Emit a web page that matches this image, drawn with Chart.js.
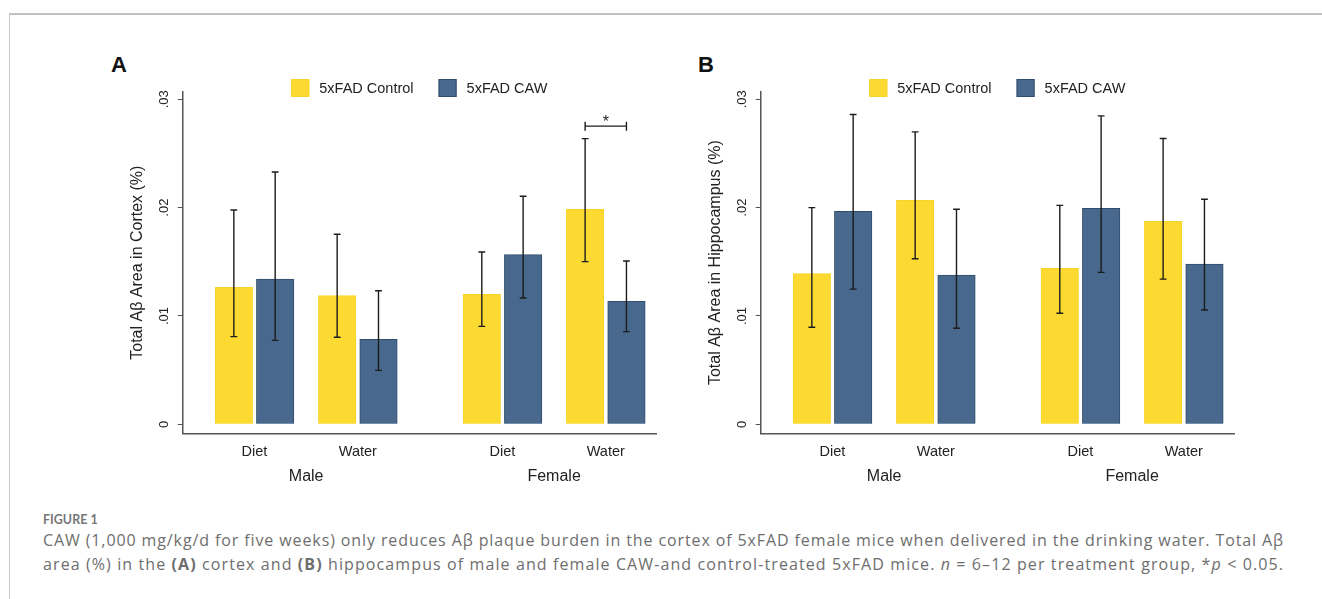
<!DOCTYPE html>
<html>
<head>
<meta charset="utf-8">
<script src="https://cdn.jsdelivr.net/npm/chart.js@4.4.1/dist/chart.umd.min.js"></script>
<style>
  html, body { margin:0; padding:0; background:#fff; }
  body { width:1322px; height:599px; position:relative; overflow:hidden; font-family:"Liberation Sans", Arial, sans-serif; }
  #frame { position:absolute; left:9px; top:13px; right:-5px; bottom:-5px; border-top:2px solid #c2c2c2; border-left:1.5px solid #c8c8c8; }
  .plabel { position:absolute; font:bold 22px/22px "Liberation Sans", Arial, sans-serif; color:#111; }
  canvas { position:absolute; }
  .cap { position:absolute; left:43px; white-space:nowrap; color:#6e6e6e; }
  #figno { top:512px; font-family:Lato, "Noto Sans", sans-serif; font-size:12.5px; line-height:15px; font-weight:700; color:#777; }
  .line { font-family:"Open Sans", "Noto Sans", sans-serif; font-size:16px; line-height:24px; }
  #l1 { top:527.5px; }
  #l2 { top:551.5px; }
</style>
</head>
<body>
<div id="frame"></div>
<div class="plabel" style="left:111px; top:54px;">A</div>
<div class="plabel" style="left:698px; top:54px;">B</div>
<canvas id="chartA" width="570" height="460" style="left:100px; top:40px;"></canvas>
<canvas id="chartB" width="570" height="460" style="left:678px; top:40px;"></canvas>
<div class="cap" id="figno">FIGURE 1</div>
<div class="cap line" id="l1">CAW (1,000 mg/kg/d for five weeks) only reduces Aβ plaque burden in the cortex of 5xFAD female mice when delivered in the drinking water. Total Aβ</div>
<div class="cap line" id="l2">area (%) in the <b>(A)</b> cortex and <b>(B)</b> hippocampus of male and female CAW-and control-treated 5xFAD mice. <i>n</i> = 6–12 per treatment group, *<i>p</i> &lt; 0.05.</div>
<script>
// ---------- data ----------
const subLabels = ['Diet', 'Water', 'Diet', 'Water'];
const groupLabels = ['Male', 'Female'];
const xPos = [0, 1, 2.4, 3.4];
const groupPos = [0.5, 2.9];
const seriesNames = ['5xFAD Control', '5xFAD CAW'];
const yTickValues = [0, 0.01, 0.02, 0.03];
const yTickLabels = ['0', '.01', '.02', '.03'];

// Panel A: cortex
const cortexControl   = [0.01265, 0.01187, 0.01200, 0.01985];
const cortexControlLo = [0.00809, 0.00803, 0.00904, 0.01501];
const cortexControlHi = [0.01978, 0.01754, 0.01590, 0.02637];
const cortexCAW       = [0.01341, 0.00784, 0.01566, 0.01135];
const cortexCAWLo     = [0.00775, 0.00498, 0.01166, 0.00855];
const cortexCAWHi     = [0.02329, 0.01233, 0.02105, 0.01507];
const cortexSig = { index: 3, y: 0.02752, label: '*' };

// Panel B: hippocampus
const hippoControl   = [0.01390, 0.02067, 0.01439, 0.01874];
const hippoControlLo = [0.00896, 0.01528, 0.01025, 0.01340];
const hippoControlHi = [0.02000, 0.02699, 0.02021, 0.02638];
const hippoCAW       = [0.01966, 0.01377, 0.01994, 0.01479];
const hippoCAWLo     = [0.01248, 0.00887, 0.01402, 0.01055];
const hippoCAWHi     = [0.02859, 0.01985, 0.02847, 0.02077];
const hippoSig = null;

// ---------- caption fitting ----------
function fitLine(id, target) {
  const el = document.getElementById(id);
  const w = el.getBoundingClientRect().width;
  const n = el.textContent.length;
  el.style.letterSpacing = ((target - w) / n) + 'px';
}
fitLine('l1', 1241);
fitLine('l2', 1241);

// ---------- styling ----------
const YELLOW = 'rgb(253,218,50)';
const YELLOW_B = 'rgb(248,212,40)';
const BLUE = 'rgb(72,105,141)';
const BLUE_B = 'rgb(50,78,110)';
const FONT = '"Liberation Sans", Arial, sans-serif';
const AXIS = '#555';

const overlay = {
  id: 'overlay',
  afterDatasetsDraw(chart) {
    const ctx = chart.ctx;
    const ys = chart.scales.y;
    ctx.save();
    ctx.strokeStyle = '#1c1c1c';
    ctx.lineWidth = 1.4;
    chart.data.datasets.forEach((ds, di) => {
      const meta = chart.getDatasetMeta(di);
      meta.data.forEach((bar, i) => {
        const x = bar.x;
        const yl = ys.getPixelForValue(ds.errLo[i]);
        const yh = ys.getPixelForValue(ds.errHi[i]);
        ctx.beginPath();
        ctx.moveTo(x, yl); ctx.lineTo(x, yh);
        ctx.moveTo(x - 3.4, yh); ctx.lineTo(x + 3.4, yh);
        ctx.moveTo(x - 3.4, yl); ctx.lineTo(x + 3.4, yl);
        ctx.stroke();
      });
    });
    const sig = chart.options.plugins.overlay.sig;
    if (sig) {
      const x1 = chart.getDatasetMeta(0).data[sig.index].x;
      const x2 = chart.getDatasetMeta(1).data[sig.index].x;
      const y = ys.getPixelForValue(sig.y);
      ctx.beginPath();
      ctx.moveTo(x1, y); ctx.lineTo(x2, y);
      ctx.moveTo(x1, y - 4.5); ctx.lineTo(x1, y + 4.5);
      ctx.moveTo(x2, y - 4.5); ctx.lineTo(x2, y + 4.5);
      ctx.stroke();
      ctx.fillStyle = '#222';
      ctx.font = '16px ' + FONT;
      ctx.textAlign = 'center';
      ctx.textBaseline = 'middle';
      ctx.fillText(sig.label, (x1 + x2) / 2, y - 3.5);
    }
    ctx.restore();
  },
  afterDraw(chart) {
    const ctx = chart.ctx;
    const ys = chart.scales.y;
    const area = chart.chartArea;
    ctx.save();
    // rotated y tick labels
    ctx.fillStyle = '#222';
    ctx.font = '13px ' + FONT;
    ctx.textAlign = 'center';
    ctx.textBaseline = 'middle';
    ys.ticks.forEach((t, i) => {
      const y = ys.getPixelForValue(t.value);
      ctx.save();
      ctx.translate(area.left - 18, y);
      ctx.rotate(-Math.PI / 2);
      ctx.fillText(yTickLabels[i], 0, 0);
      ctx.restore();
    });
    // legend
    ctx.font = '14.5px ' + FONT;
    ctx.textAlign = 'left';
    const box = 18, gapText = 10, gapItem = 25;
    const ds = chart.data.datasets;
    const widths = ds.map(d => ctx.measureText(d.label).width);
    const total = widths.reduce((a, w) => a + box + gapText + w, 0) + gapItem * (ds.length - 1);
    let x = (area.left + area.right) / 2 - total / 2;
    const top = area.top - 13;
    ds.forEach((d, i) => {
      ctx.fillStyle = d.backgroundColor;
      ctx.fillRect(x, top, box, box);
      ctx.strokeStyle = d.borderColor;
      ctx.lineWidth = 1;
      ctx.strokeRect(x + 0.5, top + 0.5, box - 1, box - 1);
      ctx.fillStyle = '#222';
      ctx.fillText(d.label, x + box + gapText, top + box / 2 + 0.5);
      x += box + gapText + widths[i] + gapItem;
    });
    ctx.restore();
  }
};

function makeChart(id, yTitle, ctrl, ctrlLo, ctrlHi, caw, cawLo, cawHi, sig) {
  const xMin = -0.695, xMax = 3.886;
  return new Chart(document.getElementById(id), {
    type: 'bar',
    data: {
      datasets: [
        { label: seriesNames[0], data: xPos.map((x, i) => ({ x: x - 0.2, y: ctrl[i] })),
          errLo: ctrlLo, errHi: ctrlHi,
          backgroundColor: YELLOW, borderColor: YELLOW_B, borderWidth: 1,
          grouped: false, barThickness: 37.5 },
        { label: seriesNames[1], data: xPos.map((x, i) => ({ x: x + 0.2, y: caw[i] })),
          errLo: cawLo, errHi: cawHi,
          backgroundColor: BLUE, borderColor: BLUE_B, borderWidth: 1,
          grouped: false, barThickness: 37.5 }
      ]
    },
    options: {
      responsive: false,
      animation: false,
      devicePixelRatio: 1,
      layout: { padding: { left: 24, right: 14, top: 52, bottom: 0 } },
      plugins: {
        legend: { display: false },
        tooltip: { enabled: false },
        overlay: { sig: sig }
      },
      scales: {
        x: {
          type: 'linear', position: 'bottom', min: xMin, max: xMax, offset: false, weight: 0,
          afterBuildTicks: s => { s.ticks = xPos.map(v => ({ value: v })); },
          afterFit: s => { s.height = 30; },
          grid: { display: false, drawTicks: false },
          border: { display: true, color: AXIS, width: 1.5 },
          ticks: { autoSkip: false, maxRotation: 0, padding: 10, color: '#222',
                   font: { family: FONT, size: 14.5 },
                   callback: (v, i) => subLabels[i] }
        },
        x2: {
          type: 'linear', position: 'bottom', min: xMin, max: xMax, offset: false, weight: 1,
          afterBuildTicks: s => { s.ticks = groupPos.map(v => ({ value: v })); },
          afterFit: s => { s.height = 36.7; },
          grid: { display: false, drawTicks: false },
          border: { display: false },
          ticks: { autoSkip: false, maxRotation: 0, padding: 4, color: '#222',
                   font: { family: FONT, size: 16 },
                   callback: (v, i) => groupLabels[i] }
        },
        y: {
          type: 'linear', min: -0.00083, max: 0.03067,
          afterBuildTicks: s => { s.ticks = yTickValues.map(v => ({ value: v })); },
          afterFit: s => { s.width = 58.7; },
          grid: { display: true, drawOnChartArea: false, drawTicks: true, tickLength: 5, color: AXIS, lineWidth: 1 },
          border: { display: true, color: AXIS, width: 1.5 },
          ticks: { display: false },
          title: { display: true, text: yTitle, color: '#222', font: { family: FONT, size: 16 } }
        }
      }
    },
    plugins: [overlay]
  });
}

makeChart('chartA', 'Total Aβ Area in Cortex (%)', cortexControl, cortexControlLo, cortexControlHi,
          cortexCAW, cortexCAWLo, cortexCAWHi, cortexSig);
makeChart('chartB', 'Total Aβ Area in Hippocampus (%)', hippoControl, hippoControlLo, hippoControlHi,
          hippoCAW, hippoCAWLo, hippoCAWHi, hippoSig);
</script>
</body>
</html>
